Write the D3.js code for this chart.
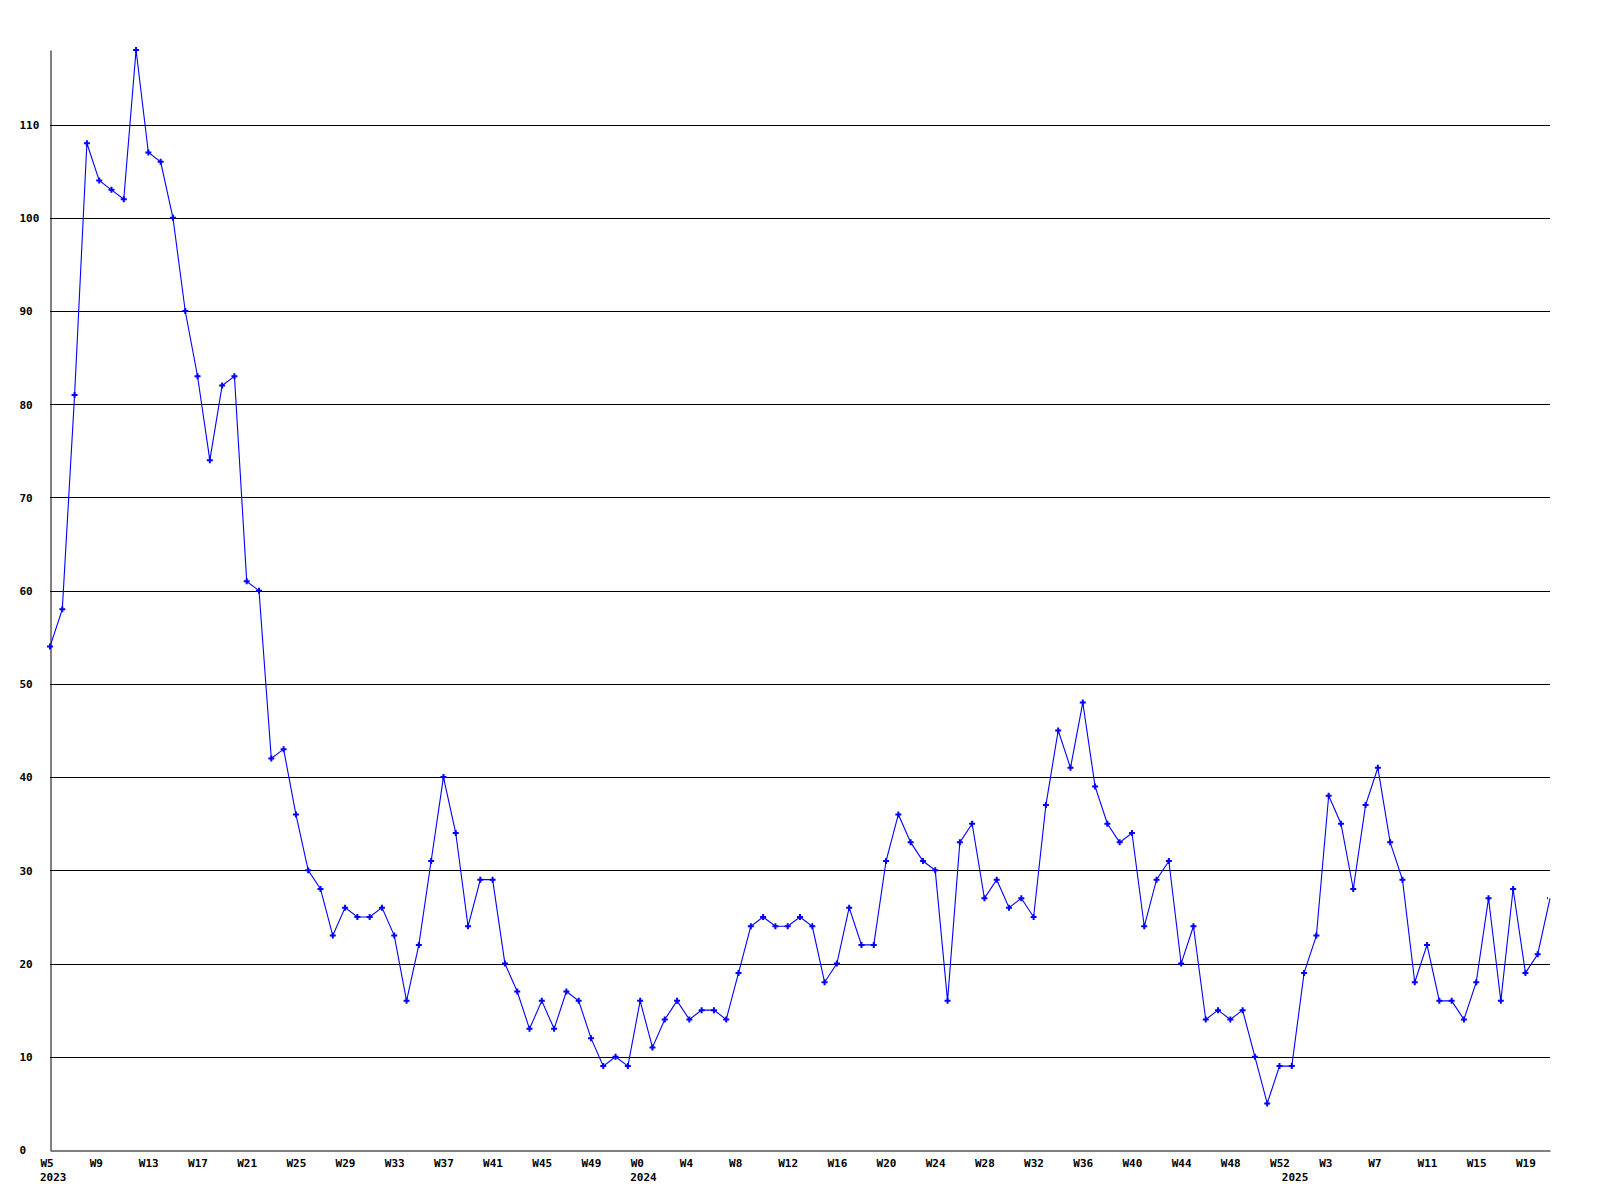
<!DOCTYPE html>
<html>
<head>
<meta charset="utf-8">
<script src="https://cdn.jsdelivr.net/npm/d3@7"></script>
<style>
  html, body { margin: 0; padding: 0; background: #ffffff; }
  svg { display: block; }
  text { font-family: "DejaVu Sans Mono", monospace; font-weight: bold; font-size: 11px; fill: #000; }
</style>
</head>
<body>
<svg id="chart" width="1600" height="1200"></svg>
<script>
// Weekly values, 2023 W5 .. 2025 W21
const values = [
  54, 58, 81, 108, 104, 103, 102, 118, 107, 106,
  100, 90, 83, 74, 82, 83, 61, 60, 42, 43,
  36, 30, 28, 23, 26, 25, 25, 26, 23, 16,
  22, 31, 40, 34, 24, 29, 29, 20, 17, 13,
  16, 13, 17, 16, 12, 9, 10, 9, 16, 11,
  14, 16, 14, 15, 15, 14, 19, 24, 25, 24,
  24, 25, 24, 18, 20, 26, 22, 22, 31, 36,
  33, 31, 30, 16, 33, 35, 27, 29, 26, 27,
  25, 37, 45, 41, 48, 39, 35, 33, 34, 24,
  29, 31, 20, 24, 14, 15, 14, 15, 10, 5,
  9, 9, 19, 23, 38, 35, 28, 37, 41, 33,
  29, 18, 22, 16, 16, 14, 18, 27, 16, 28,
  19, 21, 27
];

// Week tick labels, one every 4 weeks
const weekTickLabels = [
  "W5", "W9", "W13", "W17", "W21", "W25", "W29", "W33", "W37", "W41", "W45", "W49",
  "W0", "W4", "W8", "W12", "W16", "W20", "W24", "W28", "W32", "W36", "W40", "W44", "W48", "W52",
  "W3", "W7", "W11", "W15", "W19"
];
const weekTickStep = 4;

// Year labels and the week index where each year starts
const yearLabels = ["2023", "2024", "2025"];
const yearStartIndex = [0, 48, 101];

// Y-axis tick values
const yTickValues = [0, 10, 20, 30, 40, 50, 60, 70, 80, 90, 100, 110];

const svg = d3.select("#chart");
const mLeft = 50, mRight = 1550, mTop = 50, mBottom = 1150;

const x = d3.scaleLinear().domain([0, values.length - 1]).range([mLeft, mRight]);
const y = d3.scaleLinear().domain([0, d3.max(values)]).range([mBottom, mTop]);

// Gridlines
svg.append("g")
  .selectAll("line")
  .data(yTickValues.filter(v => v > 0))
  .join("line")
  .attr("x1", mLeft).attr("x2", mRight)
  .attr("y1", d => Math.round(y(d)) + 0.5).attr("y2", d => Math.round(y(d)) + 0.5)
  .attr("stroke", "#000").attr("stroke-width", 1);

// Y axis
const yAxis = d3.axisLeft(y).tickValues(yTickValues).tickSize(0).tickSizeOuter(0).tickFormat(d3.format("d"));
const gy = svg.append("g").attr("transform", `translate(${mLeft + 0.5},0)`).call(yAxis);
gy.select(".domain").attr("stroke", "#000").attr("stroke-width", 1);
gy.selectAll(".tick line").remove();
gy.selectAll("text")
  .attr("text-anchor", "start")
  .attr("x", 19 - mLeft)
  .attr("dy", "0.35em")
  .style("font-family", "'DejaVu Sans Mono', monospace")
  .style("font-weight", "bold")
  .style("font-size", "11px");

// X axis
const tickIdx = weekTickLabels.map((_, i) => i * weekTickStep);
const xAxis = d3.axisBottom(x).tickValues(tickIdx).tickSize(0).tickSizeOuter(0)
  .tickFormat((d, i) => weekTickLabels[i]);
const gx = svg.append("g").attr("transform", `translate(0,${mBottom + 0.5})`).call(xAxis);
gx.select(".domain").attr("stroke", "#000").attr("stroke-width", 1);
gx.selectAll(".tick line").remove();
gx.selectAll("text")
  .attr("text-anchor", "start")
  .attr("x", -10)
  .attr("y", 16)
  .attr("dy", 0)
  .style("font-family", "'DejaVu Sans Mono', monospace")
  .style("font-weight", "bold")
  .style("font-size", "11px");

// Year labels
svg.append("g")
  .selectAll("text")
  .data(yearLabels)
  .join("text")
  .attr("x", (d, i) => x(yearStartIndex[i]) - 10)
  .attr("y", mBottom + 31)
  .text(d => d);

// Line
const line = d3.line().x((d, i) => x(i)).y(d => y(d));
svg.append("path")
  .datum(values)
  .attr("d", line)
  .attr("fill", "none")
  .attr("stroke", "#0000ff")
  .attr("stroke-width", 1.1);

// Markers (clipped to the plot area, as in the original)
svg.append("clipPath").attr("id", "plotclip")
  .append("rect").attr("x", 0).attr("y", 0).attr("width", mRight - 2).attr("height", 1200);
const sym = d3.symbol().type(d3.symbolCross).size(20);
svg.append("g").attr("clip-path", "url(#plotclip)")
  .selectAll("path")
  .data(values)
  .join("path")
  .attr("transform", (d, i) => `translate(${x(i)},${y(d)})`)
  .attr("d", sym)
  .attr("fill", "#0000ff");
</script>
</body>
</html>
